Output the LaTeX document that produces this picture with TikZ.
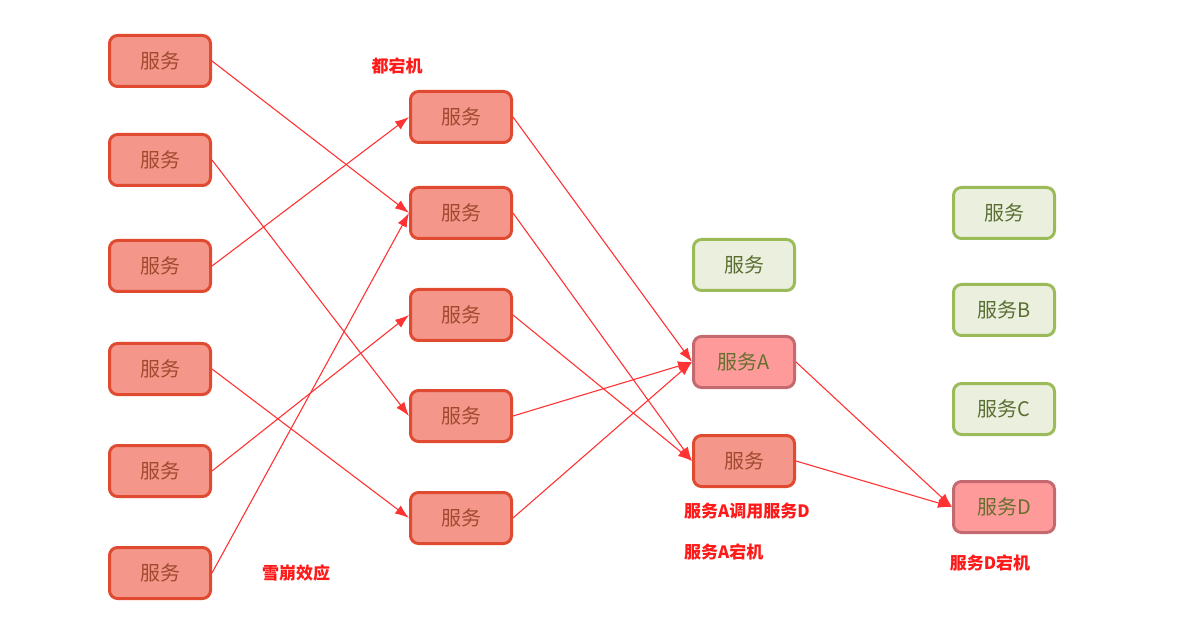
\documentclass[tikz,border=0pt]{standalone}
\usepackage{fontspec}
\newfontfamily\cjk{Noto Sans CJK SC}
\usetikzlibrary{arrows.meta}
\definecolor{redfill}{HTML}{F4978A}
\definecolor{reddraw}{HTML}{E04A30}
\definecolor{redtext}{HTML}{A04A30}
\definecolor{grnfill}{HTML}{EBF0DE}
\definecolor{grndraw}{HTML}{9BBB59}
\definecolor{grntext}{HTML}{5A6E32}
\definecolor{pnkfill}{HTML}{FF9A9A}
\definecolor{pnkdraw}{HTML}{C46A6E}
\definecolor{pnktext}{HTML}{66702E}
\definecolor{wire}{HTML}{FF3333}
\definecolor{note}{HTML}{FF1A1A}
\tikzset{
  rbox/.style={rounded corners=8pt, draw=reddraw, fill=redfill, line width=3pt,
               minimum width=101pt, minimum height=51pt, inner sep=0pt,
               font=\cjk\fontsize{20}{24}\selectfont, text=redtext},
  gbox/.style={rbox, draw=grndraw, fill=grnfill, text=grntext},
  pbox/.style={rbox, draw=pnkdraw, fill=pnkfill, text=pnktext},
  fl/.style={-{Latex[length=14pt, width=10pt]}, line width=1.1pt, draw=wire},
  lbl/.style={font=\cjk\bfseries\fontsize{17}{20}\selectfont, text=note, inner sep=0pt},
}
\begin{document}
\begin{tikzpicture}[x=1pt, y=-1pt]
  \useasboundingbox (0,0) rectangle (1189,644);
  % left column
  \node[rbox] (l1) at (160,61)  {服务};
  \node[rbox] (l2) at (160,160) {服务};
  \node[rbox] (l3) at (160,266) {服务};
  \node[rbox] (l4) at (160,369) {服务};
  \node[rbox] (l5) at (160,471) {服务};
  \node[rbox] (l6) at (160,573) {服务};
  % middle column
  \node[rbox] (m1) at (461,117) {服务};
  \node[rbox] (m2) at (461,213) {服务};
  \node[rbox] (m3) at (461,315) {服务};
  \node[rbox] (m4) at (461,416) {服务};
  \node[rbox] (m5) at (461,518) {服务};
  % third column
  \node[gbox] (g0) at (744,265) {服务};
  \node[pbox] (sa) at (744,362) {服务A};
  \node[rbox] (s3) at (744,461) {服务};
  % right column
  \node[gbox] (g1) at (1004,213) {服务};
  \node[gbox] (sb) at (1004,310) {服务B};
  \node[gbox] (sc) at (1004,409) {服务C};
  \node[pbox] (sd) at (1004,507) {服务D};
  % notes
  \node[lbl] (t1) at (397,66) {都宕机};
  \node[lbl] (t2) at (296,573) {雪崩效应};
  \node[lbl, anchor=west] (t3) at (684,511) {服务A调用服务D};
  \node[lbl, anchor=west] (t4) at (684,552) {服务A宕机};
  \node[lbl] (t5) at (990,563) {服务D宕机};
  % calls
  \draw[fl] (l1.east)--(m2.west); \draw[fl] (l2.east)--(m4.west);
  \draw[fl] (l3.east)--(m1.west); \draw[fl] (l4.east)--(m5.west);
  \draw[fl] (l5.east)--(m3.west); \draw[fl] (l6.east)--(m2.west);
  \draw[fl] (m1.east)--(sa.west); \draw[fl] (m2.east)--(s3.west);
  \draw[fl] (m3.east)--(s3.west); \draw[fl] (m4.east)--(sa.west);
  \draw[fl] (m5.east)--(sa.west);
  \draw[fl] (sa.east)--(sd.west); \draw[fl] (s3.east)--(sd.west);
\end{tikzpicture}
\end{document}
